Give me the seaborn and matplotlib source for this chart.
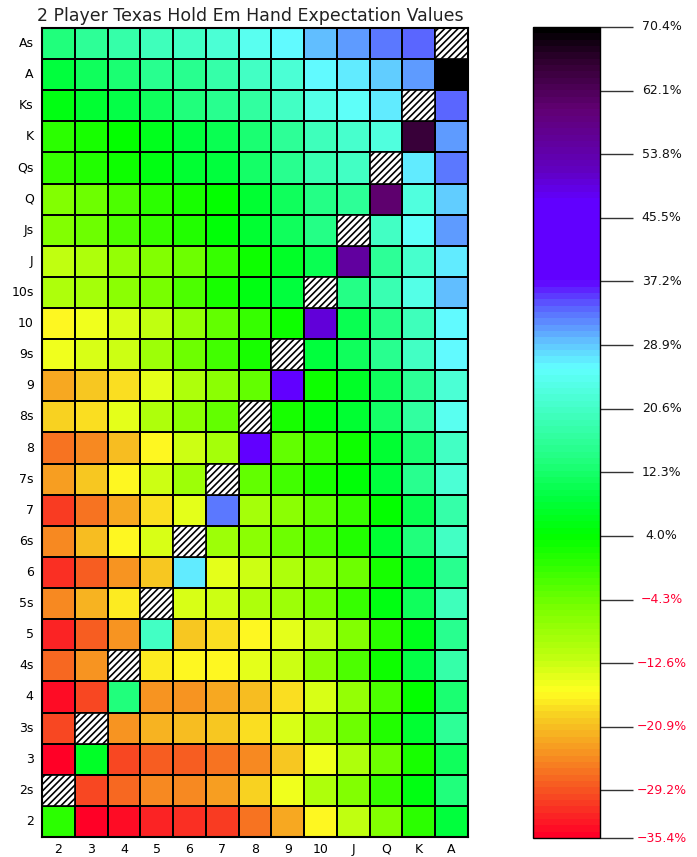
import numpy as np
import pandas as pd
import matplotlib
matplotlib.use("Agg")
import matplotlib.pyplot as plt
import seaborn as sns
from matplotlib.colors import LinearSegmentedColormap
from matplotlib.patches import Rectangle

# ---------------- data (EV in %, heads-up vs random hand) ----------------
ranks = ["2", "3", "4", "5", "6", "7", "8", "9", "10", "J", "Q", "K", "A"]

pairs = [0.6, 7.4, 14.0, 20.6, 26.6, 32.4, 38.2, 44.2, 50.0, 55.0, 59.8, 64.8, 70.4]

# suited hands: high card -> EV vs kickers 2, 3, ... (ascending)
suited_3 = [-29.8]
suited_4 = [-27.4, -24.0]
suited_5 = [-25.0, -21.4, -17.8]
suited_6 = [-25.0, -21.2, -17.2, -13.6]
suited_7 = [-23.8, -20.0, -16.4, -12.4, -8.6]
suited_8 = [-19.4, -18.4, -14.6, -10.4, -7.0, -3.6]
suited_9 = [-15.4, -13.6, -12.4, -8.2, -4.6, -1.0, 2.2]
suited_T = [-10.6, -9.0, -7.2, -5.6, -1.6, 2.0, 5.2, 8.6]
suited_J = [-5.8, -4.2, -2.0, 0.0, 1.6, 4.8, 8.4, 11.6, 15.0]
suited_Q = [-0.2, 1.4, 3.4, 5.8, 7.6, 9.0, 12.4, 15.8, 19.0, 20.6]
suited_K = [5.8, 7.6, 9.4, 11.6, 13.6, 15.6, 17.0, 20.0, 23.8, 25.2, 26.8]
suited_A = [14.0, 16.0, 17.8, 19.8, 20.0, 22.2, 24.2, 26.0, 29.4, 30.8, 32.4, 34.0]

# offsuit hands
offsuit_3 = [-35.4]
offsuit_4 = [-34.0, -30.2]
offsuit_5 = [-32.2, -28.2, -24.0]
offsuit_6 = [-32.0, -28.2, -24.0, -19.8]
offsuit_7 = [-30.8, -26.8, -22.8, -18.4, -14.6]
offsuit_8 = [-26.4, -25.0, -20.8, -16.4, -12.8, -9.0]
offsuit_9 = [-22.2, -20.2, -18.6, -14.2, -10.2, -6.6, -3.2]
offsuit_T = [-16.8, -15.0, -13.2, -11.6, -7.4, -3.6, -0.2, 3.4]
offsuit_J = [-12.0, -10.0, -7.8, -5.8, -4.2, -0.2, 3.4, 6.8, 10.8]
offsuit_Q = [-6.0, -4.2, -2.0, 0.4, 2.2, 3.8, 7.6, 11.0, 14.8, 16.4]
offsuit_K = [0.4, 2.4, 4.2, 6.6, 8.6, 10.8, 12.6, 16.0, 19.8, 21.2, 22.8]
offsuit_A = [9.2, 11.2, 12.8, 15.4, 15.6, 18.2, 20.2, 21.8, 25.8, 27.2, 29.0, 30.8]

cbar_ticks = [70.4, 62.1, 53.8, 45.5, 37.2, 28.9, 20.6, 12.3, 4.0,
              -4.3, -12.6, -20.9, -29.2, -35.4]
vmin, vmax = -35.4, 70.4

# colour anchors (value, rgb)
cmap_values = [-35.4, -30.0, -25.0, -20.0, -16.5, -12.0, -6.0, 0.0, 4.0, 9.0,
               14.0, 20.0, 26.0, 29.5, 34.0, 37.5, 48.0, 52.0, 60.0, 66.0, 70.4]
cmap_colors = [(1.0, 0.0, 0.15), (0.97, 0.30, 0.13), (0.97, 0.56, 0.13),
               (0.97, 0.80, 0.13), (1.0, 1.0, 0.13), (0.75, 1.0, 0.06),
               (0.50, 1.0, 0.0), (0.19, 1.0, 0.0), (0.0, 1.0, 0.0),
               (0.0, 1.0, 0.25), (0.13, 1.0, 0.5), (0.25, 1.0, 0.75),
               (0.38, 1.0, 1.0), (0.38, 0.75, 1.0), (0.35, 0.38, 1.0),
               (0.38, 0.0, 1.0), (0.38, 0.0, 1.0), (0.38, 0.0, 0.75),
               (0.38, 0.0, 0.45), (0.2, 0.0, 0.2), (0.0, 0.0, 0.0)]

# ---------------- build table ----------------
suited = [[], suited_3, suited_4, suited_5, suited_6, suited_7, suited_8,
          suited_9, suited_T, suited_J, suited_Q, suited_K, suited_A]
offsuit = [[], offsuit_3, offsuit_4, offsuit_5, offsuit_6, offsuit_7, offsuit_8,
           offsuit_9, offsuit_T, offsuit_J, offsuit_Q, offsuit_K, offsuit_A]

row_labels = []
rows = []
for i in range(12, -1, -1):
    for kind in ("s", ""):
        row_labels.append(ranks[i] + kind)
        vals = []
        for j in range(13):
            if i == j:
                vals.append(np.nan if kind == "s" else pairs[i])
            else:
                hi, lo = max(i, j), min(i, j)
                table = suited if kind == "s" else offsuit
                vals.append(table[hi][lo])
        rows.append(vals)
df = pd.DataFrame(rows, index=row_labels, columns=ranks)
mask = df.isna()

pos = [(v - vmin) / (vmax - vmin) for v in cmap_values]
cmap = LinearSegmentedColormap.from_list("ev", list(zip(pos, cmap_colors)), N=128)

# ---------------- plot ----------------
sns.set_style("white")
plt.rcParams["font.family"] = ["DejaVu Sans"]
plt.rcParams["hatch.linewidth"] = 1.2

W, H = 697, 857
fig = plt.figure(figsize=(W / 100, H / 100), dpi=100)
ax = fig.add_axes([42 / W, 1 - 837 / H, (468 - 42) / W, (837 - 28) / H])
cax = fig.add_axes([533 / W, 1 - 838 / H, 67 / W, (838 - 27) / H])

sns.heatmap(df, ax=ax, cmap=cmap, vmin=vmin, vmax=vmax, mask=mask,
            linewidths=1.2, linecolor="black", cbar_ax=cax,
            xticklabels=ranks, yticklabels=row_labels)

for (r, c) in zip(*np.where(mask.values)):
    ax.add_patch(Rectangle((c, r), 1, 1, facecolor="white", edgecolor="black",
                           hatch="/////", lw=1.2))

for sp in ax.spines.values():
    sp.set_visible(True)
    sp.set_color("black")
    sp.set_linewidth(1.5)

ax.tick_params(axis="both", length=0, labelsize=9, colors="black")
ax.tick_params(axis="x", pad=4)
ax.tick_params(axis="y", pad=6)
plt.setp(ax.get_yticklabels(), rotation=0)
plt.setp(ax.get_xticklabels(), rotation=0)
ax.set_xlabel("")
ax.set_ylabel("")

fig.text(250 / W, 1 - 16 / H, "2 Player Texas Hold Em Hand Expectation Values",
         ha="center", va="center", fontsize=12.5, color="#222222")

# colour bar
cbar = ax.collections[0].colorbar
cbar.outline.set_edgecolor("black")
cbar.outline.set_linewidth(1.0)
cbar.set_ticks(cbar_ticks)
cax.tick_params(axis="y", length=24, width=1, color="#333333", labelright=False,
                right=True, left=False)
for t in cbar_ticks:
    txt = ("%.1f%%" % t).replace("-", "\u2212")
    col = "#ff0033" if t < 0 else "#111111"
    cax.text(1.92, t, txt, transform=cax.get_yaxis_transform(), ha="center",
             va="center", fontsize=9, color=col)

fig.savefig("out.png", dpi=100)
